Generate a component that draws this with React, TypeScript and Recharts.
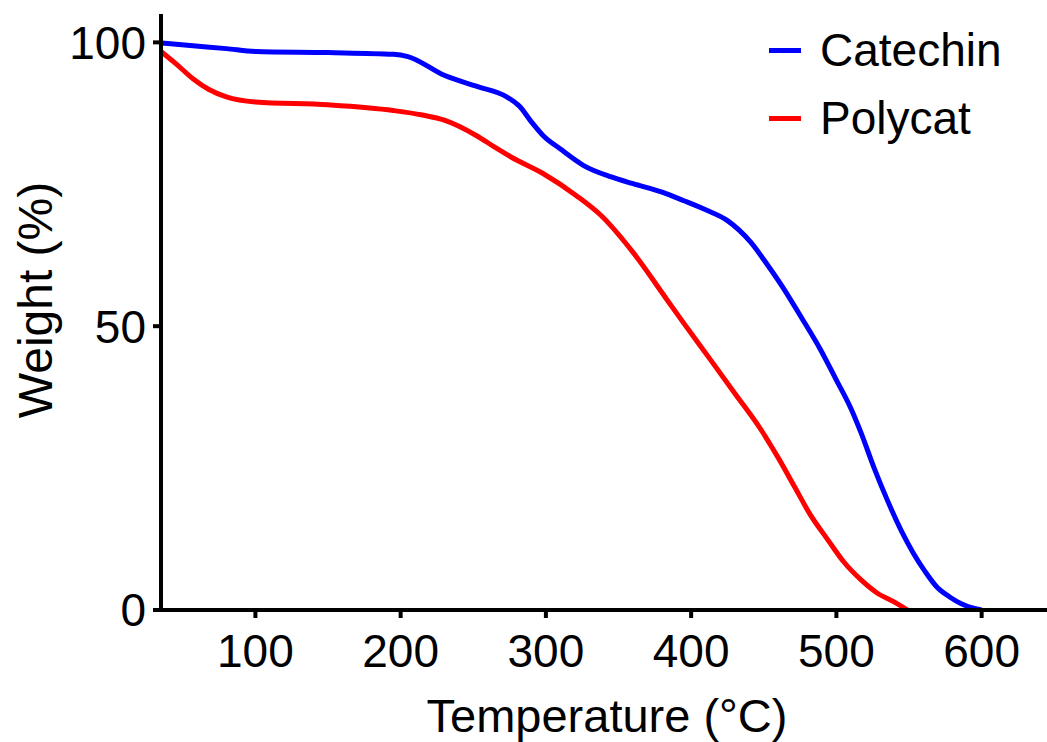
import React from 'react';
import { LineChart, Line, XAxis, YAxis, Legend } from 'recharts';

const catechinTemp = [35, 57, 80, 100, 150, 195, 205, 230, 253, 273, 282, 290, 298, 310, 326, 345, 360, 380, 395, 410, 425, 441, 452, 464, 476, 489, 500, 510, 517, 526, 535, 545, 553, 561, 569, 578, 586, 593, 600];
const catechinWeight = [99.9, 99.4, 98.9, 98.4, 98.2, 97.9, 97.5, 94.2, 92.2, 90.4, 88.7, 86.0, 83.6, 81.2, 78.3, 76.3, 75.1, 73.6, 72.1, 70.5, 68.6, 64.8, 61.0, 56.5, 51.5, 45.9, 40.5, 35.5, 31.2, 25.0, 19.4, 13.8, 10.0, 6.8, 4.1, 2.3, 1.1, 0.4, 0];

const polycatTemp = [35, 45, 57, 68, 80, 100, 150, 195, 215, 230, 252, 265, 276, 298, 321, 338, 360, 383, 395, 413, 430, 448, 460, 471, 482, 494, 505, 517, 528, 540, 549];
const polycatWeight = [98.4, 96.3, 93.6, 91.7, 90.4, 89.5, 89.0, 88.0, 87.2, 86.3, 83.6, 81.5, 79.8, 76.9, 73.0, 69.5, 63.0, 54.8, 50.5, 44.2, 38.2, 31.8, 26.8, 21.8, 16.8, 12.4, 8.5, 5.3, 3.0, 1.4, 0];

const xTicks = [100, 200, 300, 400, 500, 600];
const yTicks = [0, 50, 100];
const seriesNames = ['Catechin', 'Polycat'];
const seriesColors = ['#0000ff', '#ff0000'];
const xTitle = 'Temperature (°C)';
const yTitle = 'Weight (%)';

const catechinData = catechinTemp.map((t, i) => ({ t, w: catechinWeight[i] }));
const polycatData = polycatTemp.map((t, i) => ({ t, w: polycatWeight[i] }));

const FONT = 'Arial, "Liberation Sans", Helvetica, sans-serif';

const LegendContent = () => (
  <div style={{ fontFamily: FONT }}>
    {seriesNames.map((name, i) => (
      <div key={name} style={{ display: 'flex', alignItems: 'center', height: 68 }}>
        <div style={{ width: 32, height: 5, background: seriesColors[i], marginRight: 19 }} />
        <span style={{ fontSize: 46, lineHeight: '68px', color: '#000' }}>{name}</span>
      </div>
    ))}
  </div>
);

export default function App() {
  return (
    <div style={{ position: 'absolute', left: 0, top: 0, background: '#fff' }}>
      <LineChart width={1047} height={742} data={catechinData} margin={{ top: 14, right: 0, left: 0, bottom: 0 }}>
        <XAxis
          dataKey="t"
          type="number"
          domain={[35, 645]}
          ticks={xTicks}
          allowDataOverflow
          height={132}
          stroke="#000"
          strokeWidth={4}
          tickSize={8}
          tickMargin={16}
          tick={{ fill: '#000', fontSize: 46, fontFamily: FONT }}
          label={{
            content: () => (
              <text x={607} y={732} textAnchor="middle" fontSize={47} fontFamily={FONT} fill="#000">
                {xTitle}
              </text>
            ),
          }}
        />
        <YAxis
          type="number"
          domain={[0, 105]}
          ticks={yTicks}
          allowDataOverflow
          width={161}
          stroke="#000"
          strokeWidth={4}
          tickSize={8}
          tickMargin={7}
          tick={{ fill: '#000', fontSize: 46, fontFamily: FONT }}
          label={{
            content: () => (
              <text x={52} y={300} transform="rotate(-90, 52, 300)" textAnchor="middle" fontSize={48} fontFamily={FONT} fill="#000">
                {yTitle}
              </text>
            ),
          }}
        />
        <Legend
          layout="vertical"
          align="center"
          verticalAlign="middle"
          wrapperStyle={{ position: 'absolute', left: 769, top: 16, width: 280 }}
          content={LegendContent}
        />
        <Line
          data={catechinData}
          dataKey="w"
          name={seriesNames[0]}
          type="monotone"
          stroke={seriesColors[0]}
          strokeWidth={5}
          dot={false}
          isAnimationActive={false}
        />
        <Line
          data={polycatData}
          dataKey="w"
          name={seriesNames[1]}
          type="monotone"
          stroke={seriesColors[1]}
          strokeWidth={5}
          dot={false}
          isAnimationActive={false}
        />
      </LineChart>
    </div>
  );
}
